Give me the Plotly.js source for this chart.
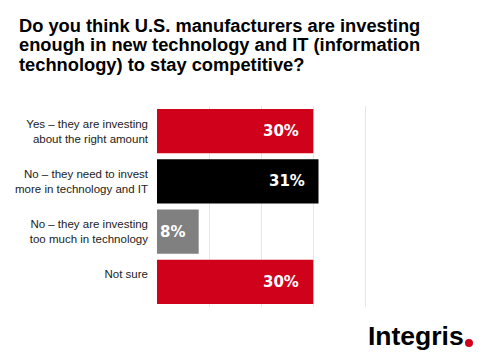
<!DOCTYPE html>
<html>
<head>
<meta charset="utf-8">
<script src="https://cdn.plot.ly/plotly-3.0.1.min.js"></script>
<style>
html,body{margin:0;padding:0;background:#fff;}
#chart{width:502px;height:361px;}
</style>
</head>
<body>
<div id="chart"></div>
<script>
const categories = [
  "Yes – they are investing<br>about the right amount",
  "No – they need to invest<br>more in technology and IT",
  "No – they are investing<br>too much in technology",
  "Not sure<br>\u00a0"
];
const values = [30, 31, 8, 30];
const valueLabels = ["30%", "31%", "8%", "30%"];
const barColors = ["#d0021b", "#000000", "#808080", "#d0021b"];
const titleLines = [
  "Do you think U.S. manufacturers are investing",
  "enough in new technology and IT (information",
  "technology) to stay competitive?"
];
const brandName = "Integris";

const M = {l: 157, r: 84, t: 106, b: 54};
const W = 502, H = 361;
const PW = W - M.l - M.r, PH = H - M.t - M.b;
const px = x => (x - M.l) / PW;
const py = y => (H - M.b - y) / PH;

const trace = {
  type: "bar",
  orientation: "h",
  y: categories,
  x: values,
  marker: {color: barColors, line: {width: 0}},
  hoverinfo: "none"
};

const annotations = [];
values.forEach((v, i) => {
  annotations.push({
    x: v, y: categories[i], xref: "x", yref: "y",
    text: "<b>" + valueLabels[i] + "</b>", showarrow: false,
    xanchor: "right", yanchor: "middle", xshift: -12,
    font: {family: "DejaVu Sans, sans-serif", size: 15, color: "#ffffff"}
  });
});
titleLines.forEach((t, i) => {
  annotations.push({
    x: px(17), y: py(34 + i * 19.5), xref: "paper", yref: "paper",
    xanchor: "left", yanchor: "bottom", yshift: -4,
    text: "<b>" + t + "</b>", showarrow: false,
    font: {family: "Liberation Sans, Arial, sans-serif", size: 18.3, color: "#000000"}
  });
});
annotations.push({
  x: px(366), y: py(347), xref: "paper", yref: "paper",
  xanchor: "left", yanchor: "bottom", yshift: -6,
  text: "<b>" + brandName + "</b>", showarrow: false,
  font: {family: "Liberation Sans, Arial, sans-serif", size: 26.5, color: "#000000"}
});

const layout = {
  width: W, height: H,
  margin: {l: M.l, r: M.r, t: M.t, b: M.b, pad: 0},
  paper_bgcolor: "#ffffff", plot_bgcolor: "#ffffff",
  showlegend: false,
  bargap: 0.12,
  xaxis: {
    range: [0, 50.1], dtick: 10, tick0: 0,
    showgrid: true, gridcolor: "#e6e6e6", gridwidth: 1,
    zeroline: false, showticklabels: false, showline: false, ticks: "",
    fixedrange: true
  },
  yaxis: {
    autorange: "reversed",
    ticks: "", showline: false, showgrid: false, zeroline: false,
    ticklabelstandoff: 8,
    tickfont: {family: "Liberation Sans, Arial, sans-serif", size: 11.5, color: "#222222"},
    fixedrange: true
  },
  annotations: annotations,
  shapes: [{
    type: "circle", xref: "paper", yref: "paper",
    x0: px(465), x1: px(473), y0: py(347), y1: py(339),
    fillcolor: "#d0021b", line: {width: 0}
  }]
};

Plotly.newPlot("chart", [trace], layout, {displayModeBar: false, staticPlot: true});
</script>
</body>
</html>
